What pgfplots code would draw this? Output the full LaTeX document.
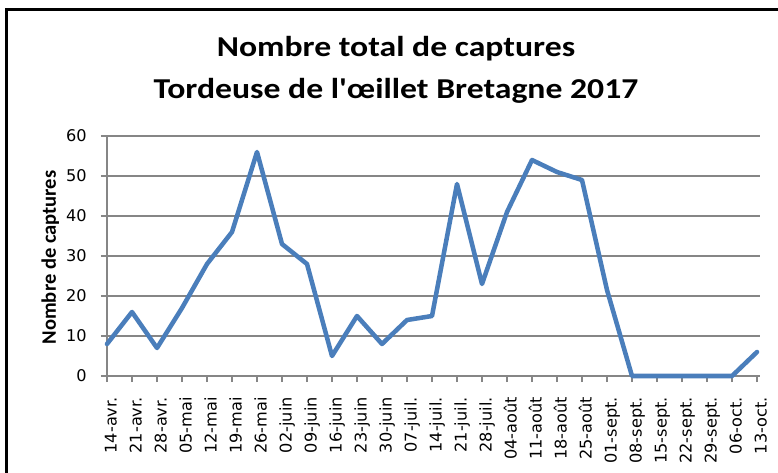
\documentclass[border=0pt]{standalone}
\usepackage{fontspec}
\setmainfont{DejaVu Sans}
\newfontfamily\titlefont[FakeStretch=1.17]{Carlito}
\newfontfamily\labfont{Carlito}
\usepackage{pgfplots}
\pgfplotsset{compat=1.18}
\definecolor{serie}{HTML}{4A7EBB}
\definecolor{gridc}{RGB}{134,134,134}
\begin{document}
\begin{tikzpicture}[x=1pt,y=1pt]
\useasboundingbox (-80.25,-72) rectangle (503.25,282);
\begin{axis}[
  at={(0,0)}, anchor=south west,
  scale only axis, width=489.75pt, height=180pt,
  xmin=0, xmax=26.12, ymin=0, ymax=60,
  axis lines=left, axis line style={-, draw=gridc, line width=1pt},
  xtick={0,...,26},
  xticklabels={14-avr.,21-avr.,28-avr.,05-mai,12-mai,19-mai,26-mai,02-juin,09-juin,16-juin,23-juin,30-juin,07-juil.,14-juil.,21-juil.,28-juil.,04-août,11-août,18-août,25-août,01-sept.,08-sept.,15-sept.,22-sept.,29-sept.,06-oct.,13-oct.},
  ytick={0,10,...,60},
  ymajorgrids, grid style={draw=gridc, line width=1pt},
  tick align=outside, major tick length=4.5pt,
  tick style={draw=gridc, line width=1pt},
  tick label style={font=\fontsize{12.1}{13}\selectfont, text=black},
  /pgf/number format/assume math mode=true,
  xticklabel style={xshift=7.3pt, yshift=-11.25pt, rotate=90, anchor=base east, inner sep=0pt},
  yticklabel style={xshift=-10.5pt, anchor=east, inner sep=0pt},
  clip=false,
]
\addplot[serie, line width=3.4pt, line join=round, line cap=round] coordinates {
(0,8) (1,16) (2,7) (3,17) (4,28) (5,36) (6,56) (7,33) (8,28) (9,5)
(10,15) (11,8) (12,14) (13,15) (14,48) (15,23) (16,41) (17,54) (18,51) (19,49)
(20,21.5) (21,0) (22,0) (23,0) (24,0) (25,0) (26,6)
};
\end{axis}
\node[anchor=base, font=\titlefont\bfseries\fontsize{21.6}{24}\selectfont] at (216.75,239.25) {Nombre total de captures};
\node[anchor=base, font=\titlefont\bfseries\fontsize{21.6}{24}\selectfont] at (216.75,207.75) {Tordeuse de l'œillet Bretagne 2017};
\node[anchor=base, rotate=90, font=\labfont\bfseries\fontsize{15.4}{17}\selectfont] at (-38.25,88.9) {Nombre de captures};
\draw[line width=2.25pt, line cap=rect] (-75.4,-80) -- (-75.4,274.9) -- (510,274.9);
\end{tikzpicture}
\end{document}
